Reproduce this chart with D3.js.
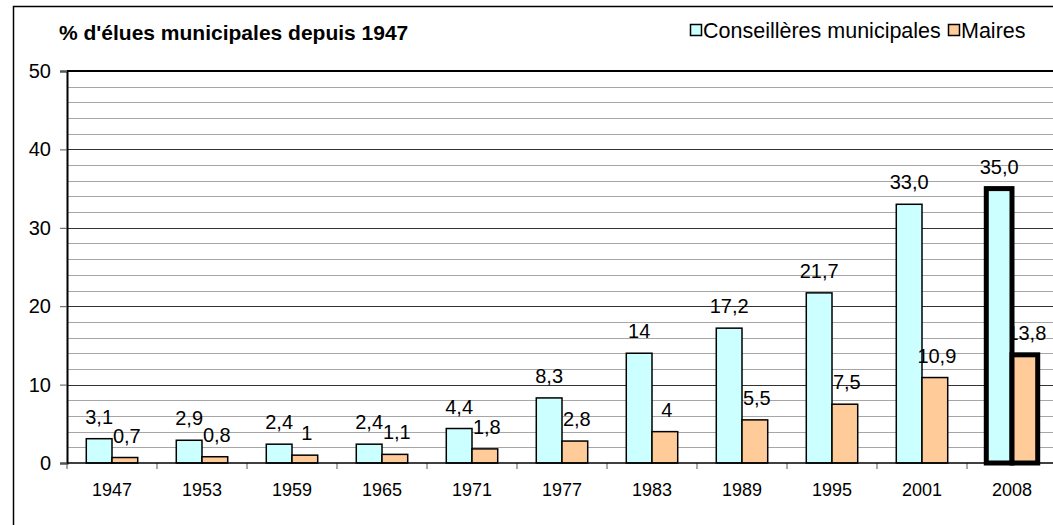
<!DOCTYPE html>
<html>
<head>
<meta charset="utf-8">
<script src="https://cdn.jsdelivr.net/npm/d3@7"></script>
<style>
  body { margin: 0; background: #fff; }
  text { font-family: "Liberation Sans", Arial, sans-serif; fill: #000; }
</style>
</head>
<body>
<div id="chart"></div>
<script>
// data
var years = ["1947", "1953", "1959", "1965", "1971", "1977", "1983", "1989", "1995", "2001", "2008"];
var conseilleres = [3.1, 2.9, 2.4, 2.4, 4.4, 8.3, 14, 17.2, 21.7, 33.0, 35.0];
var maires = [0.7, 0.8, 1, 1.1, 1.8, 2.8, 4, 5.5, 7.5, 10.9, 13.8];
var conseilleresLabels = ["3,1", "2,9", "2,4", "2,4", "4,4", "8,3", "14", "17,2", "21,7", "33,0", "35,0"];
var mairesLabels = ["0,7", "0,8", "1", "1,1", "1,8", "2,8", "4", "5,5", "7,5", "10,9", "13,8"];
var seriesNames = ["Conseillères municipales", "Maires"];
var yTicks = [0, 10, 20, 30, 40, 50];

var colors = ["#ccffff", "#ffcc99"];
var highlightYear = "2008";

var W = 1053, H = 525;
var plot = {left: 67, top: 71, right: 1057, bottom: 463};

var svg = d3.select("#chart").append("svg")
    .attr("width", W)
    .attr("height", H);

// outer chart frame
svg.append("rect")
    .attr("x", 13.5).attr("y", 6.5)
    .attr("width", W + 20).attr("height", H + 20)
    .attr("fill", "none").attr("stroke", "#000").attr("stroke-width", 1.5);

var x0 = d3.scaleBand().domain(years).range([plot.left, plot.right]);
var bw = x0.bandwidth();
// excel style: gap width 150%
var x1 = d3.scaleBand().domain([0, 1]).range([bw * 0.2143, bw * 0.7857]);
var y = d3.scaleLinear().domain([0, 50]).range([plot.bottom, plot.top]);

// minor gridlines every 2
svg.append("g").selectAll("line")
    .data(d3.range(2, 50, 2).filter(function (d) { return d % 10 !== 0; }))
    .enter().append("line")
    .attr("x1", plot.left).attr("x2", W)
    .attr("y1", function (d) { return Math.round(y(d)) + 0.5; })
    .attr("y2", function (d) { return Math.round(y(d)) + 0.5; })
    .attr("stroke", "#a6a6a6").attr("stroke-width", 1);

// major gridlines
svg.append("g").selectAll("line")
    .data(yTicks.slice(1, 5))
    .enter().append("line")
    .attr("x1", plot.left).attr("x2", W)
    .attr("y1", function (d) { return Math.round(y(d)) + 0.5; })
    .attr("y2", function (d) { return Math.round(y(d)) + 0.5; })
    .attr("stroke", "#333").attr("stroke-width", 1);

// top border of plot area
svg.append("line")
    .attr("x1", plot.left).attr("x2", W)
    .attr("y1", plot.top).attr("y2", plot.top)
    .attr("stroke", "#000").attr("stroke-width", 2);

// y axis
var yAxis = svg.append("g")
    .attr("transform", "translate(" + plot.left + ",0)")
    .call(d3.axisLeft(y).tickValues(yTicks).tickSize(7).tickPadding(9));
yAxis.select(".domain").attr("stroke", "#000").attr("stroke-width", 2);
yAxis.selectAll(".tick line").attr("stroke", "#555");
yAxis.selectAll("text").style("font-size", "20px")
    .style("font-family", "'Liberation Sans', Arial, sans-serif");

// x axis
var xAxis = svg.append("g")
    .attr("transform", "translate(0," + plot.bottom + ")")
    .call(d3.axisBottom(x0).tickSize(0).tickPadding(20));
xAxis.select(".domain").remove();
xAxis.selectAll("text").style("font-size", "18px")
    .style("font-family", "'Liberation Sans', Arial, sans-serif");
svg.append("g").selectAll("line")
    .data(years.concat(["end"]))
    .enter().append("line")
    .attr("x1", function (d, i) { return plot.left + i * bw; })
    .attr("x2", function (d, i) { return plot.left + i * bw; })
    .attr("y1", plot.bottom).attr("y2", plot.bottom + 6)
    .attr("stroke", "#555");

// bars
var rows = years.map(function (yr, i) {
  return {year: yr, vals: [conseilleres[i], maires[i]], labels: [conseilleresLabels[i], mairesLabels[i]]};
});

function drawBars(sel) {
  sel.selectAll("rect")
    .data(function (d) { return d.vals.map(function (v, k) { return {k: k, v: v, hl: d.year === highlightYear}; }); })
    .enter().append("rect")
    .attr("x", function (d) { return x1(d.k); })
    .attr("y", function (d) { return y(d.v); })
    .attr("width", x1.bandwidth())
    .attr("height", function (d) { return plot.bottom - y(d.v); })
    .attr("fill", function (d) { return colors[d.k]; })
    .attr("stroke", "#000")
    .attr("stroke-width", function (d) { return d.hl ? 5 : 1.5; });
}

svg.append("g").selectAll("g")
    .data(rows.filter(function (d) { return d.year !== highlightYear; }))
    .enter().append("g")
    .attr("transform", function (d) { return "translate(" + x0(d.year) + ",0)"; })
    .call(drawBars);

// x axis base line
svg.append("line")
    .attr("x1", plot.left).attr("x2", W)
    .attr("y1", plot.bottom).attr("y2", plot.bottom)
    .attr("stroke", "#000").attr("stroke-width", 1.5);

// value labels
var lab = svg.append("g").selectAll("g")
    .data(rows)
    .enter().append("g")
    .attr("transform", function (d) { return "translate(" + x0(d.year) + ",0)"; });
lab.selectAll("text")
    .data(function (d) { return d.vals.map(function (v, k) { return {k: k, v: v, t: d.labels[k]}; }); })
    .enter().append("text")
    .attr("x", function (d) { return x1(d.k) + x1.bandwidth() / 2 + (d.k ? 2 : 0); })
    .attr("y", function (d) { return y(d.v) - 15; })
    .attr("text-anchor", "middle")
    .style("font-size", "20px")
    .text(function (d) { return d.t; });

// highlighted 2008 bars on top
svg.append("g").selectAll("g")
    .data(rows.filter(function (d) { return d.year === highlightYear; }))
    .enter().append("g")
    .attr("transform", function (d) { return "translate(" + x0(d.year) + ",0)"; })
    .call(drawBars);

// title
svg.append("text")
    .attr("x", 59).attr("y", 40)
    .style("font-size", "21px").style("font-weight", "bold")
    .text("% d'élues municipales depuis 1947");

// legend
var legX = [690, 948];
var leg = svg.append("g").selectAll("g")
    .data(seriesNames)
    .enter().append("g")
    .attr("transform", function (d, i) { return "translate(" + legX[i] + ",0)"; });
leg.append("rect")
    .attr("x", 0.5).attr("y", 24.5).attr("width", 11).attr("height", 11)
    .attr("fill", function (d, i) { return colors[i]; })
    .attr("stroke", "#000").attr("stroke-width", 1.5);
leg.append("text")
    .attr("x", 13).attr("y", 38)
    .style("font-size", "21.5px")
    .text(function (d) { return d; });
</script>
</body>
</html>
